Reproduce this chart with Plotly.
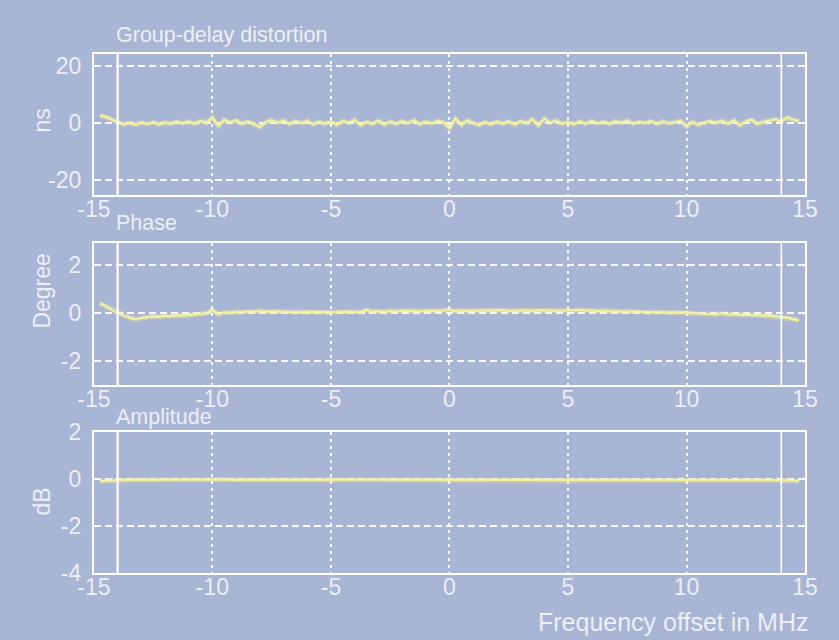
import plotly.graph_objects as go

# ---------------- data ----------------
freq_mhz = [-14.75, -14.5, -14.25, -14.0, -13.75, -13.5, -13.25, -13.0, -12.75, -12.5,
            -12.25, -12.0, -11.75, -11.5, -11.25, -11.0, -10.75, -10.5, -10.25, -10.0,
            -9.75, -9.5, -9.25, -9.0, -8.75, -8.5, -8.25, -8.0, -7.75, -7.5,
            -7.25, -7.0, -6.75, -6.5, -6.25, -6.0, -5.75, -5.5, -5.25, -5.0,
            -4.75, -4.5, -4.25, -4.0, -3.75, -3.5, -3.25, -3.0, -2.75, -2.5,
            -2.25, -2.0, -1.75, -1.5, -1.25, -1.0, -0.75, -0.5, -0.25, 0.0,
            0.25, 0.5, 0.75, 1.0, 1.25, 1.5, 1.75, 2.0, 2.25, 2.5,
            2.75, 3.0, 3.25, 3.5, 3.75, 4.0, 4.25, 4.5, 4.75, 5.0,
            5.25, 5.5, 5.75, 6.0, 6.25, 6.5, 6.75, 7.0, 7.25, 7.5,
            7.75, 8.0, 8.25, 8.5, 8.75, 9.0, 9.25, 9.5, 9.75, 10.0,
            10.25, 10.5, 10.75, 11.0, 11.25, 11.5, 11.75, 12.0, 12.25, 12.5,
            12.75, 13.0, 13.25, 13.5, 13.75, 14.0, 14.25, 14.5, 14.75]

group_delay_ns = [2.6, 2.2, 1.3, 0.4, -0.4, 0.1, -0.5, 0.2, -0.3, 0.3,
                  -0.4, 0.2, -0.2, 0.5, -0.1, 0.6, -0.2, 0.8, 0.1, 2.0,
                  -1.0, 1.2, 0.3, 1.0, -0.2, 0.6, -0.5, -1.4, 0.4, 1.0,
                  0.2, 0.9, -0.3, 0.7, 0.0, 0.8, -0.4, 0.5, -0.2, 0.6,
                  -0.6, 0.8, 0.1, 1.1, -0.7, 0.4, -0.3, 0.9, -0.5, 0.6,
                  -0.2, 0.7, 0.0, 1.0, -0.4, 0.5, -0.1, 0.8, 0.3, -1.8,
                  1.6, -0.6, 0.9, 0.1, -0.7, 0.3, -0.4, 0.5, -0.2, 0.6,
                  -0.5, 0.7, 0.0, 1.4, -0.8, 1.6, 0.2, 0.9, -0.3, 0.4,
                  -0.4, 0.6, -0.2, 0.8, -0.1, 0.5, -0.3, 0.7, 0.1, 0.9,
                  -0.2, 0.5, 0.0, 0.8, -0.3, 0.6, -0.1, 0.4, 0.8, -1.2,
                  0.5, -0.6, 0.2, 0.7, 0.1, 0.9, -0.2, 1.1, -0.8, 0.6,
                  1.2, -0.3, 0.5, 0.9, 1.4, 0.6, 2.0, 1.2, 0.8]

phase_deg = [0.40, 0.28, 0.12, 0.00, -0.12, -0.20, -0.27, -0.22, -0.18, -0.15,
             -0.16, -0.13, -0.14, -0.11, -0.12, -0.09, -0.07, -0.05, -0.02, 0.12,
             -0.06, 0.02, 0.00, 0.04, 0.03, 0.06, 0.05, 0.08, 0.04, 0.06,
             0.05, 0.05, 0.03, 0.04, 0.02, 0.05, 0.04, 0.03, 0.02, 0.04,
             0.03, 0.05, 0.04, 0.06, 0.03, 0.12, 0.05, 0.07, 0.04, 0.08,
             0.06, 0.09, 0.07, 0.08, 0.06, 0.09, 0.07, 0.08, 0.09, 0.13,
             0.07, 0.10, 0.08, 0.09, 0.10, 0.08, 0.10, 0.09, 0.11, 0.08,
             0.10, 0.09, 0.10, 0.08, 0.11, 0.09, 0.10, 0.08, 0.09, 0.10,
             0.08, 0.12, 0.09, 0.10, 0.07, 0.09, 0.06, 0.08, 0.05, 0.06,
             0.04, 0.05, 0.03, 0.04, 0.02, 0.03, 0.01, 0.02, 0.00, 0.03,
             -0.02, -0.03, -0.05, -0.04, -0.06, -0.02, -0.07, -0.06, -0.09, -0.08,
             -0.10, -0.09, -0.12, -0.11, -0.14, -0.16, -0.20, -0.26, -0.32]

amplitude_db = [-0.10, -0.08, -0.06, -0.05, -0.04, -0.04, -0.03, -0.04, -0.03, -0.04,
                -0.03, -0.03, -0.04, -0.03, -0.03, -0.04, -0.03, -0.03, -0.03, -0.02,
                -0.03, -0.03, -0.04, -0.03, -0.03, -0.03, -0.04, -0.03, -0.03, -0.03,
                -0.03, -0.04, -0.03, -0.03, -0.03, -0.03, -0.04, -0.03, -0.03, -0.02,
                -0.03, -0.03, -0.03, -0.04, -0.03, -0.03, -0.03, -0.03, -0.04, -0.03,
                -0.03, -0.03, -0.03, -0.04, -0.03, -0.03, -0.03, -0.03, -0.03, -0.02,
                -0.03, -0.03, -0.04, -0.03, -0.03, -0.03, -0.03, -0.03, -0.04, -0.03,
                -0.03, -0.03, -0.03, -0.03, -0.04, -0.03, -0.03, -0.03, -0.03, -0.02,
                -0.03, -0.03, -0.04, -0.03, -0.03, -0.03, -0.03, -0.04, -0.03, -0.03,
                -0.03, -0.03, -0.03, -0.04, -0.03, -0.03, -0.03, -0.03, -0.03, -0.02,
                -0.03, -0.04, -0.03, -0.03, -0.03, -0.04, -0.03, -0.03, -0.04, -0.03,
                -0.04, -0.03, -0.04, -0.04, -0.05, -0.05, -0.06, -0.07, -0.09]

panel_titles = ["Group-delay distortion", "Phase", "Amplitude"]
y_titles = ["ns", "Degree", "dB"]
x_ticks = [-15, -10, -5, 0, 5, 10, 15]
y_ticks = [[-20, 0, 20], [-2, 0, 2], [-4, -2, 0, 2]]
y_ranges = [[-25.2, 24.3], [-3.0, 2.9], [-4, 2]]
marker_lines = [-14, 14]
x_label = "Frequency offset in MHz"

# ---------------- style / layout ----------------
W, H = 853, 653
BG = "#a9b5d4"
TXT = "#eceff6"
LINE = "#f3f29c"
HALO = "rgba(243,242,156,0.35)"
FONT = "Liberation Sans, Arial, sans-serif"

# the photographed page appears offset and slightly scaled; convert
# target picture pixels to page pixels
SX, SY, OX, OY = 0.966, 0.965, 16.0, 10.0


def px(r):
    return (r - OX) / SX


def py(r):
    return (r - OY) / SY


frames_px = [(51, 193), (241, 384), (431, 573)]
x_left, x_right = px(93), px(805)

fig = go.Figure()
series = [group_delay_ns, phase_deg, amplitude_db]

for i, ys in enumerate(series):
    n = "" if i == 0 else str(i + 1)
    fig.add_trace(go.Scatter(x=freq_mhz, y=ys, mode="lines",
                             line=dict(color=HALO, width=5),
                             xaxis="x" + n, yaxis="y" + n,
                             showlegend=False, hoverinfo="skip"))
    fig.add_trace(go.Scatter(x=freq_mhz, y=ys, mode="lines",
                             line=dict(color=LINE, width=2.2),
                             xaxis="x" + n, yaxis="y" + n,
                             showlegend=False, hoverinfo="skip"))
    top, bot = py(frames_px[i][0]), py(frames_px[i][1])
    fig.layout["xaxis" + n] = dict(
        domain=[x_left / W, x_right / W], anchor="y" + n,
        range=[-15, 15], tickvals=x_ticks, ticktext=[str(t) for t in x_ticks],
        showgrid=True, gridcolor="rgba(255,255,255,0.9)", gridwidth=1.5,
        griddash="3px,4px", zeroline=False,
        showline=True, linecolor="white", linewidth=2, mirror=True,
        ticks="", ticklabelstandoff=-8,
        tickfont=dict(family=FONT, size=23, color=TXT),
    )
    fig.layout["yaxis" + n] = dict(
        domain=[1 - bot / H, 1 - top / H], anchor="x" + n,
        range=y_ranges[i], tickvals=y_ticks[i],
        ticktext=[str(t) for t in y_ticks[i]],
        showgrid=True, gridcolor="rgba(255,255,255,0.9)", gridwidth=1.5,
        griddash="7px,4px", zeroline=False,
        showline=True, linecolor="white", linewidth=2, mirror=True,
        ticks="outside", ticklen=6, tickcolor="rgba(0,0,0,0)",
        tickfont=dict(family=FONT, size=23, color=TXT),
    )
    for k, xv in enumerate(marker_lines):
        fig.add_shape(type="line", xref="x" + n, yref="y" + n + " domain",
                      x0=xv, x1=xv, y0=0, y1=1,
                      line=dict(color="white", width=2.2 if k == 0 else 1.6))

title_y = [32, 221, 416]
ytitle_y = [118, 289, 501]
for i in range(3):
    fig.add_annotation(text=panel_titles[i], xref="paper", yref="paper",
                       x=px(113) / W, y=1 - py(title_y[i]) / H,
                       xanchor="left", yanchor="middle", showarrow=False,
                       font=dict(family=FONT, size=21.5, color=TXT))
    fig.add_annotation(text=y_titles[i], xref="paper", yref="paper",
                       x=px(41) / W, y=1 - py(ytitle_y[i]) / H, textangle=-90,
                       xanchor="center", yanchor="middle", showarrow=False,
                       font=dict(family=FONT, size=23, color=TXT))

fig.add_annotation(text=x_label, xref="paper", yref="paper",
                   x=px(810) / W, y=1 - py(622) / H, xanchor="right", yanchor="middle",
                   showarrow=False, font=dict(family=FONT, size=25, color=TXT))

fig.update_layout(width=W, height=H, margin=dict(l=0, r=0, t=0, b=0),
                  paper_bgcolor=BG, plot_bgcolor=BG)

page_css = (
    "document.body.style.margin='0';"
    "document.body.style.overflow='hidden';"
    "document.body.style.background='transparent';"
    "document.documentElement.style.background="
    "'linear-gradient(to right, #ffffff 9px, rgba(0,0,0,0) 9px),"
    " linear-gradient(to bottom, #ffffff 5px, " + BG + " 5px)';"
)
fig.write_html("out.html", config={"displayModeBar": False}, post_script=page_css)
